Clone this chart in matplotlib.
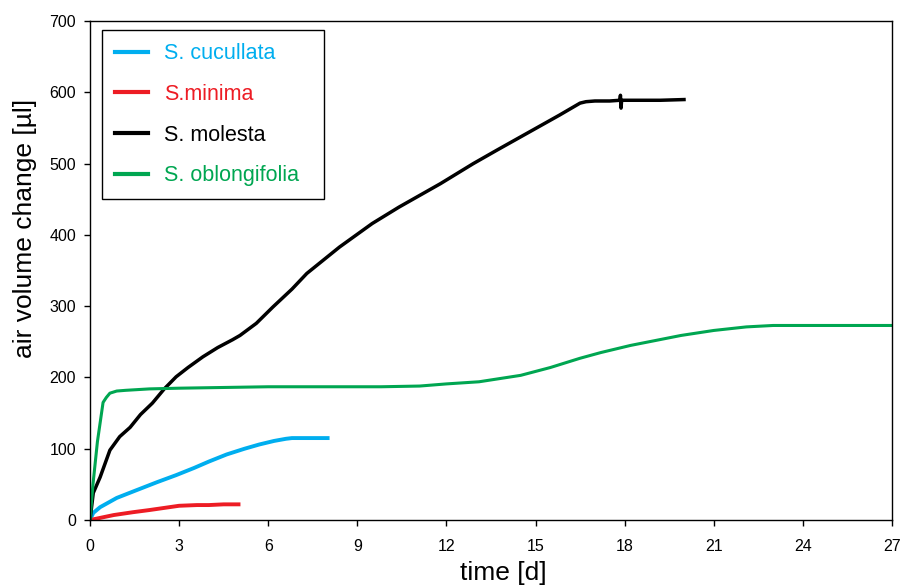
import matplotlib
matplotlib.use("Agg")
import matplotlib.pyplot as plt

plt.rcParams["font.family"] = ["Liberation Sans", "DejaVu Sans"]

# S. cucullata
cuc_t = [0, 0.11, 0.34, 0.9, 1.45, 2.25, 2.9, 3.5, 4.0, 4.6, 5.2, 5.7, 6.2, 6.6, 6.8, 7.2, 8.0]
cuc_v = [0, 10, 18, 31, 40, 53, 63, 73, 82, 92, 100, 106, 111, 114, 115, 115, 115]

# S.minima
min_t = [0, 0.34, 0.8, 1.45, 2.0, 2.5, 3.0, 3.6, 4.0, 4.5, 5.0]
min_v = [0, 3, 7, 11, 14, 17, 20, 21, 21, 22, 22]

# S. molesta
mol_t = [0, 0.11, 0.34, 0.67, 1.0, 1.35, 1.7, 2.1, 2.5, 2.9, 3.3, 3.8, 4.3, 4.8, 5.05, 5.6,
         6.16, 6.8, 7.3, 8.4, 9.5, 10.4, 11.8, 12.9, 13.7, 14.9, 15.8, 16.5,
         16.7, 17.0, 17.5, 17.84, 17.86, 17.88, 17.9, 18.5, 19.2, 20.0]
mol_v = [0, 38, 60, 98, 117, 130, 148, 164, 184, 201, 214, 229, 242, 253, 259, 276,
         299, 324, 346, 383, 416, 439, 472, 500, 519, 547, 568, 585,
         587, 588, 588, 589, 596, 578, 589, 589, 589, 590]

# S. oblongifolia
obl_t = [0, 0.1, 0.25, 0.44, 0.55, 0.67, 0.9, 1.2, 2.0, 3.0, 4.5, 6.0, 7.5, 9.0, 9.8,
         11.1, 12.0, 13.1, 14.5, 15.5, 16.5, 17.2, 18.2, 19.9, 21.0, 22.1, 23.0, 24.0,
         25.7, 27.0]
obl_v = [0, 50, 110, 165, 172, 178, 181, 182, 184, 185, 186, 187, 187, 187, 187,
         188, 191, 194, 203, 214, 227, 235, 245, 259, 266, 271, 273, 273, 273, 273]

fig = plt.figure(figsize=(9, 5.88), dpi=100)
ax = fig.add_axes([0.1, 0.1156, 0.891, 0.8484])

ax.plot(cuc_t, cuc_v, color="#00AEEF", lw=2.8, label="S. cucullata")
ax.plot(min_t, min_v, color="#ED1C24", lw=2.8, label="S.minima")
ax.plot(mol_t, mol_v, color="black", lw=2.5, label="S. molesta")
ax.plot(obl_t, obl_v, color="#00A651", lw=2.2, label="S. oblongifolia")

ax.set_xlim(0, 27)
ax.set_ylim(0, 700)
ax.set_xticks(range(0, 28, 3))
ax.set_yticks(range(0, 701, 100))
ax.tick_params(labelsize=11.5, direction="out", length=4, width=1)
ax.tick_params(axis="x", pad=10)
ax.tick_params(axis="y", pad=6)
for s in ax.spines.values():
    s.set_linewidth(1)

ax.set_xlabel("time [d]", fontsize=19)
ax.set_ylabel("air volume change [µl]", fontsize=19)
ax.xaxis.set_label_coords(0.515, -0.083)
ax.yaxis.set_label_coords(-0.066, 0.585)

leg = ax.legend(loc="upper left", bbox_to_anchor=(0.015, 0.645, 0.277, 0.337),
                mode="expand", borderaxespad=0,
                fontsize=15.5, fancybox=False, edgecolor="black", framealpha=1,
                handlelength=1.55, handletextpad=0.75, labelspacing=0.92,
                borderpad=0.6)
leg.get_frame().set_linewidth(1)
for txt, ln in zip(leg.get_texts(), leg.get_lines()):
    txt.set_color(ln.get_color())
    ln.set_linewidth(3)

fig.savefig("out.png", dpi=100)
